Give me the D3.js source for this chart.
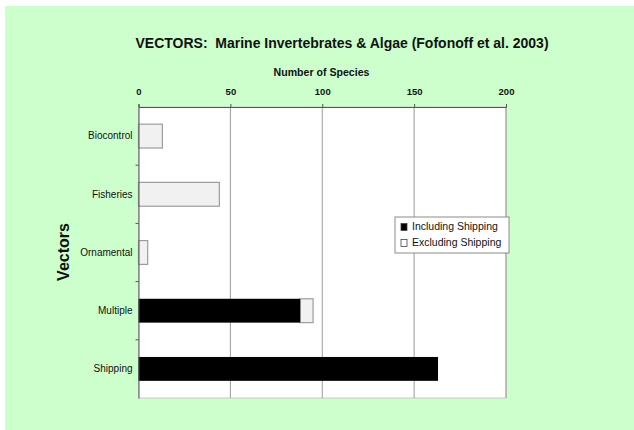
<!DOCTYPE html>
<html>
<head>
<meta charset="utf-8">
<script src="https://cdn.jsdelivr.net/npm/d3@7"></script>
<style>
  html, body { margin: 0; padding: 0; background: #ffffff; }
  svg text { font-family: "Liberation Sans", Arial, sans-serif; fill: #111; }
</style>
</head>
<body>
<svg id="chart" width="634" height="430"></svg>
<script>
// Vectors of introduction for marine invertebrates & algae
const categories = ["Biocontrol", "Fisheries", "Ornamental", "Multiple", "Shipping"];
const includingShipping = [0, 0, 0, 88, 163];
const excludingShipping = [13, 44, 5, 7, 0];
const xTicks = [0, 50, 100, 150, 200];
const seriesNames = ["Including Shipping", "Excluding Shipping"];

const svg = d3.select("#chart");

// page background
svg.append("rect").attr("x", 5).attr("y", 6).attr("width", 629).attr("height", 424)
  .attr("fill", "#ccffcc");

const plot = { left: 138.5, right: 506, top: 107, bottom: 398 };

const x = d3.scaleLinear().domain([0, 200]).range([plot.left, plot.right]);
const y = d3.scaleBand().domain(categories).range([plot.top, plot.bottom])
  .paddingInner(0.59).paddingOuter(0.295);

// plot area
svg.append("rect")
  .attr("x", plot.left).attr("y", plot.top)
  .attr("width", plot.right - plot.left).attr("height", plot.bottom - plot.top)
  .attr("fill", "#ffffff").attr("stroke", "#c8c8c8").attr("stroke-width", 1);

// vertical gridlines
svg.append("g").selectAll("line").data(xTicks.slice(1)).join("line")
  .attr("x1", d => x(d)).attr("x2", d => x(d))
  .attr("y1", plot.top).attr("y2", plot.bottom)
  .attr("stroke", "#9a9a9a").attr("stroke-width", 1);

// stacked bars: including shipping first, excluding shipping after it
const rows = categories.map((c, i) => ({ cat: c, inc: includingShipping[i], exc: excludingShipping[i] }));

svg.append("g").selectAll("rect").data(rows.filter(d => d.exc > 0)).join("rect")
  .attr("x", d => x(d.inc)).attr("y", d => y(d.cat))
  .attr("width", d => x(d.inc + d.exc) - x(d.inc)).attr("height", y.bandwidth())
  .attr("fill", "#f1f1f1").attr("stroke", "#9c9c9c").attr("stroke-width", 1.2);

svg.append("g").selectAll("rect").data(rows.filter(d => d.inc > 0)).join("rect")
  .attr("x", d => x(0)).attr("y", d => y(d.cat))
  .attr("width", d => x(d.inc) - x(0)).attr("height", y.bandwidth())
  .attr("fill", "#000000");

// top axis
const xAxis = d3.axisTop(x).tickValues(xTicks).tickSize(3).tickPadding(9);
const gx = svg.append("g").attr("transform", `translate(0,${plot.top})`).call(xAxis);
gx.select(".domain").attr("stroke", "#555");
gx.selectAll(".tick line").attr("stroke", "#555");
gx.selectAll(".tick text").attr("font-size", 9.5).attr("font-weight", "bold").attr("fill", "#222");

// left axis
const yAxis = d3.axisLeft(y).tickSize(0).tickPadding(6);
const gy = svg.append("g").attr("transform", `translate(${plot.left},0)`).call(yAxis);
gy.select(".domain").attr("stroke", "#555");
gy.selectAll(".tick text").attr("font-size", 10).attr("fill", "#222");
// tick marks between categories
const step = y.step();
const bounds = categories.slice(1).map(c => y(c) - step * y.paddingInner() / 2);
gy.selectAll(".sep").data(bounds).join("line").attr("class", "sep")
  .attr("x1", -3).attr("x2", 0).attr("y1", d => d).attr("y2", d => d)
  .attr("stroke", "#555");

// titles
svg.append("text").attr("x", 342).attr("y", 44).attr("text-anchor", "middle")
  .attr("dominant-baseline", "middle").attr("font-size", 14).attr("font-weight", "bold")
  .attr("xml:space", "preserve").style("white-space", "pre")
  .text("VECTORS:  Marine Invertebrates & Algae (Fofonoff et al. 2003)");

svg.append("text").attr("x", 321.5).attr("y", 73).attr("text-anchor", "middle")
  .attr("dominant-baseline", "middle").attr("font-size", 10.6).attr("font-weight", "bold")
  .text("Number of Species");

svg.append("text").attr("transform", "translate(65,252) rotate(-90)")
  .attr("text-anchor", "middle").attr("dominant-baseline", "middle")
  .attr("font-size", 16).attr("font-weight", "bold")
  .text("Vectors");

// legend
const legend = svg.append("g").attr("transform", "translate(395,217)");
legend.append("rect").attr("width", 114).attr("height", 36)
  .attr("fill", "#ffffff").attr("stroke", "#8c8c8c");
const swatchFill = ["#000000", "#ffffff"];
seriesNames.forEach((name, i) => {
  const row = legend.append("g").attr("transform", `translate(6,${10 + i * 16})`);
  row.append("rect").attr("x", 0).attr("y", -3.5).attr("width", 6).attr("height", 7)
    .attr("fill", swatchFill[i]).attr("stroke", "#444").attr("stroke-width", 0.8);
  row.append("text").attr("x", 11).attr("y", 0).attr("dominant-baseline", "middle")
    .attr("font-size", 10.5).attr("fill", "#222").text(name);
});
</script>
</body>
</html>
